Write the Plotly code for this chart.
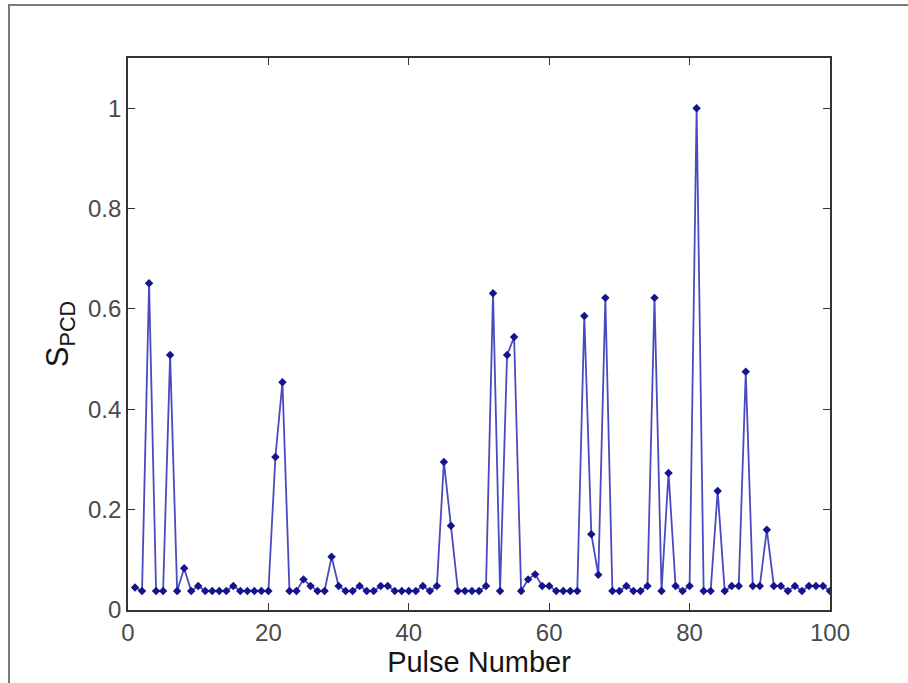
import plotly.graph_objects as go

# Pulse index and normalised PCD signal per pulse
pulse = list(range(1, 101))
s_pcd = [
    0.045, 0.038, 0.651, 0.038, 0.038, 0.508, 0.038, 0.083, 0.038, 0.048,   # 1-10
    0.038, 0.038, 0.038, 0.038, 0.048, 0.038, 0.038, 0.038, 0.038, 0.038,   # 11-20
    0.305, 0.454, 0.038, 0.038, 0.061, 0.048, 0.038, 0.038, 0.106, 0.048,   # 21-30
    0.038, 0.038, 0.048, 0.038, 0.038, 0.048, 0.048, 0.038, 0.038, 0.038,   # 31-40
    0.038, 0.048, 0.038, 0.048, 0.295, 0.168, 0.038, 0.038, 0.038, 0.038,   # 41-50
    0.048, 0.631, 0.038, 0.508, 0.544, 0.038, 0.061, 0.071, 0.048, 0.048,   # 51-60
    0.038, 0.038, 0.038, 0.038, 0.586, 0.151, 0.070, 0.622, 0.038, 0.038,   # 61-70
    0.048, 0.038, 0.038, 0.048, 0.622, 0.038, 0.273, 0.048, 0.038, 0.048,   # 71-80
    1.000, 0.038, 0.038, 0.237, 0.038, 0.048, 0.048, 0.475, 0.048, 0.048,   # 81-90
    0.160, 0.048, 0.048, 0.038, 0.048, 0.038, 0.048, 0.048, 0.048, 0.038,   # 91-100
]

x_ticks = [0, 20, 40, 60, 80, 100]
y_ticks = [0, 0.2, 0.4, 0.6, 0.8, 1]
y_tick_text = ["0", "0.2", "0.4", "0.6", "0.8", "1"]

FONT = "Liberation Sans, Arial, sans-serif"

fig = go.Figure()
fig.add_trace(go.Scatter(
    x=pulse, y=s_pcd, mode="lines+markers",
    line=dict(color="#4a4ac0", width=1.8),
    marker=dict(symbol="diamond", size=6.5, color="#14148c"),
    showlegend=False,
))

axis_common = dict(
    showline=True, linecolor="#333333", linewidth=1.6, mirror="ticks",
    ticks="inside", ticklen=7, tickwidth=1.3, tickcolor="#333333",
    showgrid=False, zeroline=False,
    tickfont=dict(family=FONT, size=24, color="#4a4a4a"),
)

fig.update_xaxes(
    range=[0, 100], tickvals=x_ticks,
    title=dict(text="Pulse Number", standoff=3,
               font=dict(family=FONT, size=29, color="#151515")),
    **axis_common,
)
fig.update_yaxes(
    range=[0, 1.1], tickvals=y_ticks, ticktext=y_tick_text,
    title=dict(text="S<sub>PCD</sub>", standoff=10,
               font=dict(family=FONT, size=31, color="#151515")),
    **axis_common,
)

# Outer figure frame
fig.add_shape(type="rect", xref="paper", yref="paper",
              x0=-0.1695, x1=1.15, y0=-0.2, y1=1.096,
              line=dict(color="#7a7a7a", width=2), layer="below")

fig.update_layout(
    width=908, height=683,
    margin=dict(l=128, r=78, t=58, b=73),
    paper_bgcolor="white", plot_bgcolor="white",
)

fig.write_html("out.html")
